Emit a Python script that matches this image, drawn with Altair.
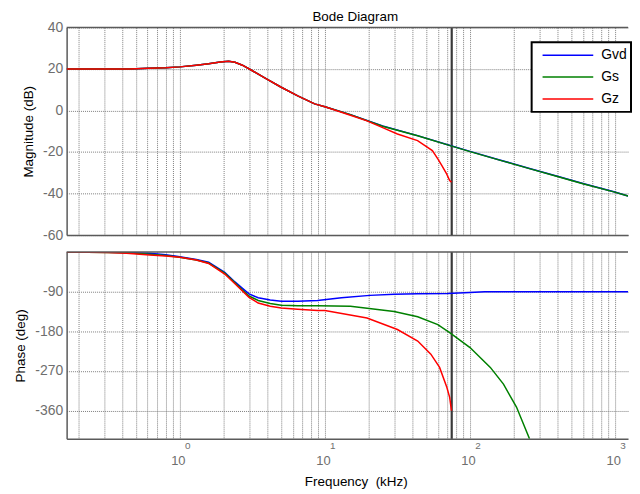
import altair as alt
import pandas as pd

FONT = "Liberation Sans"

# ---- axis tick / grid values ----
x_grid = [0.2, 0.3, 0.4, 0.5, 0.6, 0.7, 0.8, 0.9,
          1, 2, 3, 4, 5, 6, 7, 8, 9,
          10, 20, 30, 40, 50, 60, 70, 80, 90,
          100, 200, 300, 400, 500, 600, 700, 800, 900, 1000]
decades = [1, 10, 100, 1000]
decade_base = ["10", "10", "10", "10"]
decade_exp = ["0", "1", "2", "3"]
mag_ticks = [-60, -40, -20, 0, 20, 40]
phase_ticks = [-360, -270, -180, -90]
nyquist_khz = [74.8]

series_names = ["Gvd", "Gs", "Gz"]
series_colors = ["#0000ff", "#008000", "#ff0000"]

# ---- magnitude (dB) ----
mag_freq = [0.166, 0.3, 0.45, 0.61, 0.8, 1.0, 1.3, 1.58, 1.9, 2.17, 2.4, 2.7, 3.1, 3.9, 5.0,
            6.5, 8.5, 10, 15, 25, 43.5, 72, 100, 160, 257, 400, 600, 980, 1227]
gvd_mag = [20, 20, 20, 20.3, 20.6, 21, 21.8, 22.5, 23.3, 23.7, 23.2, 21.8, 19.5, 15.5, 11.2,
           7, 3.2, 1.8, -2, -7.5, -12.1, -16.7, -19.7, -23.8, -27.9, -31.7, -35.2, -39.1, -41.2]
gs_mag = [20, 20, 20, 20.3, 20.6, 21, 21.8, 22.5, 23.3, 23.7, 23.2, 21.8, 19.5, 15.5, 11.2,
          7, 3.2, 1.8, -2, -7.6, -12.2, -16.8, -19.8, -23.9, -28.0, -31.8, -35.3, -39.2, -41.2]
gz_mag_freq = [0.166, 0.3, 0.45, 0.61, 0.8, 1.0, 1.3, 1.58, 1.9, 2.17, 2.4, 2.7, 3.1, 3.9, 5.0,
               6.5, 8.5, 10, 15, 19.5, 25.7, 31.6, 43.5, 55, 60, 64, 69, 72.4, 74.5]
gz_mag = [20, 20, 20, 20.3, 20.6, 21, 21.8, 22.5, 23.3, 23.7, 23.2, 21.8, 19.5, 15.5, 11.2,
          7, 3.2, 1.8, -2.3, -5.0, -8.6, -11.3, -14.5, -19.3, -23.3, -26.5, -30.5, -33.7, -34.5]

# ---- phase (deg) ----
gvd_ph_freq = [0.166, 0.32, 0.43, 0.62, 0.8, 1.0, 1.3, 1.58, 2.04, 2.4, 2.69, 3.0, 3.47, 4.2,
               5.0, 6.5, 8.9, 13, 20.4, 30, 43.6, 70, 100, 126, 200, 500, 1227]
gvd_ph = [0, -0.5, -1, -3, -6, -11, -17, -23, -46, -68, -82, -95, -104, -109,
          -112, -112, -110, -104, -98.5, -96, -95, -94, -92, -90, -90, -90, -90]
gs_ph_freq = [0.166, 0.32, 0.43, 0.62, 0.8, 1.0, 1.3, 1.58, 2.04, 2.4, 2.69, 3.0, 3.47, 4.2,
              5.0, 6.5, 8.9, 15, 30, 43.6, 60, 72.4, 100, 138, 170, 209, 257]
gs_ph = [0, -1, -2, -5, -8, -12, -18, -25, -48, -70, -86, -100, -110, -117,
         -121, -122, -122, -123, -135, -147, -165, -183, -217, -262, -300, -352, -424]
gz_ph_freq = [0.166, 0.32, 0.43, 0.62, 0.8, 1.0, 1.3, 1.58, 2.04, 2.4, 2.69, 3.0, 3.47, 4.2,
              5.0, 6.5, 8.9, 10, 19.5, 31.6, 43.6, 53.7, 61.7, 69.2, 72.4, 74.5]
gz_ph = [0, -1, -3, -7, -9, -12, -18, -26, -50, -72, -88, -103, -116, -123,
         -127, -130, -133, -133, -150, -176, -202, -232, -262, -307, -330, -360]


def frame(freq, vals, name):
    return pd.DataFrame({"f": freq, "v": vals, "s": name, "i": list(range(len(freq)))})


W, H1, H2 = 565, 209, 188
FRAME_COLOR = "#5a5a5a"

xscale = alt.Scale(type="log", domain=[0.166, 1227], nice=False, zero=False)
mag_scale = alt.Scale(domain=[-60, 40], nice=False, zero=False)
ph_scale = alt.Scale(domain=[-424, 0], nice=False, zero=False)
cscale = alt.Scale(domain=series_names, range=series_colors)

x_axis_top = alt.Axis(values=x_grid, labels=False, ticks=False, domain=True, grid=True, title=None)
x_axis_bot = alt.Axis(values=x_grid, labels=False, ticks=False, domain=True, grid=True,
                      title="Frequency \u00a0(kHz)", titlePadding=36, titleX=291)
y_axis_mag = alt.Axis(values=mag_ticks, title="Magnitude (dB)", grid=True, ticks=False,
                      domain=True, labelPadding=4, titlePadding=7,
                      labelExpr="'' + datum.value")
y_axis_ph = alt.Axis(values=phase_ticks, title="Phase (deg)", grid=True, ticks=False,
                     domain=True, labelPadding=4, titlePadding=7,
                     labelExpr="'' + datum.value")

legend = alt.Legend(orient="none", legendX=468, legendY=15, title=None,
                    symbolType="stroke", symbolSize=2601, symbolStrokeWidth=1.5,
                    clipHeight=18, rowPadding=4, symbolOffset=6, labelOffset=7,
                    labelFontSize=14, labelColor="black", labelFont=FONT,
                    padding=4, strokeColor="black", fillColor="white", cornerRadius=0)

one = pd.DataFrame({"a": [0]})
nyq_df = pd.DataFrame({"f": nyquist_khz})


def line_layer(df, xaxis, yaxis, yscale, leg):
    return alt.Chart(df).mark_line(strokeWidth=1.5, clip=True).encode(
        x=alt.X("f:Q", scale=xscale, axis=xaxis),
        y=alt.Y("v:Q", scale=yscale, axis=yaxis),
        color=alt.Color("s:N", scale=cscale, legend=leg),
        order="i:Q",
    )


def nyq_layer(xaxis):
    return alt.Chart(nyq_df).mark_rule(color="#3a3a3a", strokeWidth=2.2).encode(
        x=alt.X("f:Q", scale=xscale, axis=xaxis)
    )


def top_border():
    return alt.Chart(one).mark_rule(color=FRAME_COLOR, strokeWidth=1.5).encode(
        x=alt.value(0), x2=alt.value(W), y=alt.value(0)
    )


top = alt.layer(
    nyq_layer(x_axis_top),
    line_layer(frame(mag_freq, gvd_mag, "Gvd"), x_axis_top, y_axis_mag, mag_scale, legend),
    line_layer(frame(mag_freq, gs_mag, "Gs"), x_axis_top, y_axis_mag, mag_scale, legend),
    line_layer(frame(gz_mag_freq, gz_mag, "Gz"), x_axis_top, y_axis_mag, mag_scale, legend),
    top_border(),
).properties(
    width=W, height=H1,
    title=alt.Title("Bode Diagram", fontSize=13.5, font=FONT, fontWeight="normal",
                    color="black", offset=-3, dx=8),
)

lab_df = pd.DataFrame({"f": decades, "b": decade_base, "e": decade_exp})

base_labels = alt.Chart(lab_df).mark_text(
    align="center", baseline="alphabetic", dx=-1.5, fontSize=13, font=FONT, color="#6e6e6e"
).encode(x=alt.X("f:Q", scale=xscale, axis=x_axis_bot), y=alt.value(H2 + 26), text="b:N")

exp_labels = alt.Chart(lab_df).mark_text(
    align="center", baseline="alphabetic", dx=8, fontSize=10, font=FONT, color="#6e6e6e"
).encode(x=alt.X("f:Q", scale=xscale, axis=x_axis_bot), y=alt.value(H2 + 10), text="e:N")

bottom = alt.layer(
    nyq_layer(x_axis_bot),
    line_layer(frame(gvd_ph_freq, gvd_ph, "Gvd"), x_axis_bot, y_axis_ph, ph_scale, None),
    line_layer(frame(gs_ph_freq, gs_ph, "Gs"), x_axis_bot, y_axis_ph, ph_scale, None),
    line_layer(frame(gz_ph_freq, gz_ph, "Gz"), x_axis_bot, y_axis_ph, ph_scale, None),
    top_border(),
    base_labels,
    exp_labels,
).properties(width=W, height=H2)

chart = alt.vconcat(top, bottom, spacing=8).resolve_scale(color="independent").properties(
    padding={"left": 5, "top": 0, "right": 0, "bottom": 0}
).configure_axis(
    labelFont=FONT, labelFontSize=14, labelColor="#6e6e6e",
    titleFont=FONT, titleFontSize=13.5, titleFontWeight="normal", titleColor="black",
    gridColor="#7f7f7f", gridDash=[1, 1], gridOpacity=1, gridWidth=1,
    domainColor=FRAME_COLOR, domainWidth=1.5,
).configure_view(stroke=None).configure_legend(strokeWidth=2)

chart.save("out.html", embed_options={"renderer": "svg", "actions": False})
